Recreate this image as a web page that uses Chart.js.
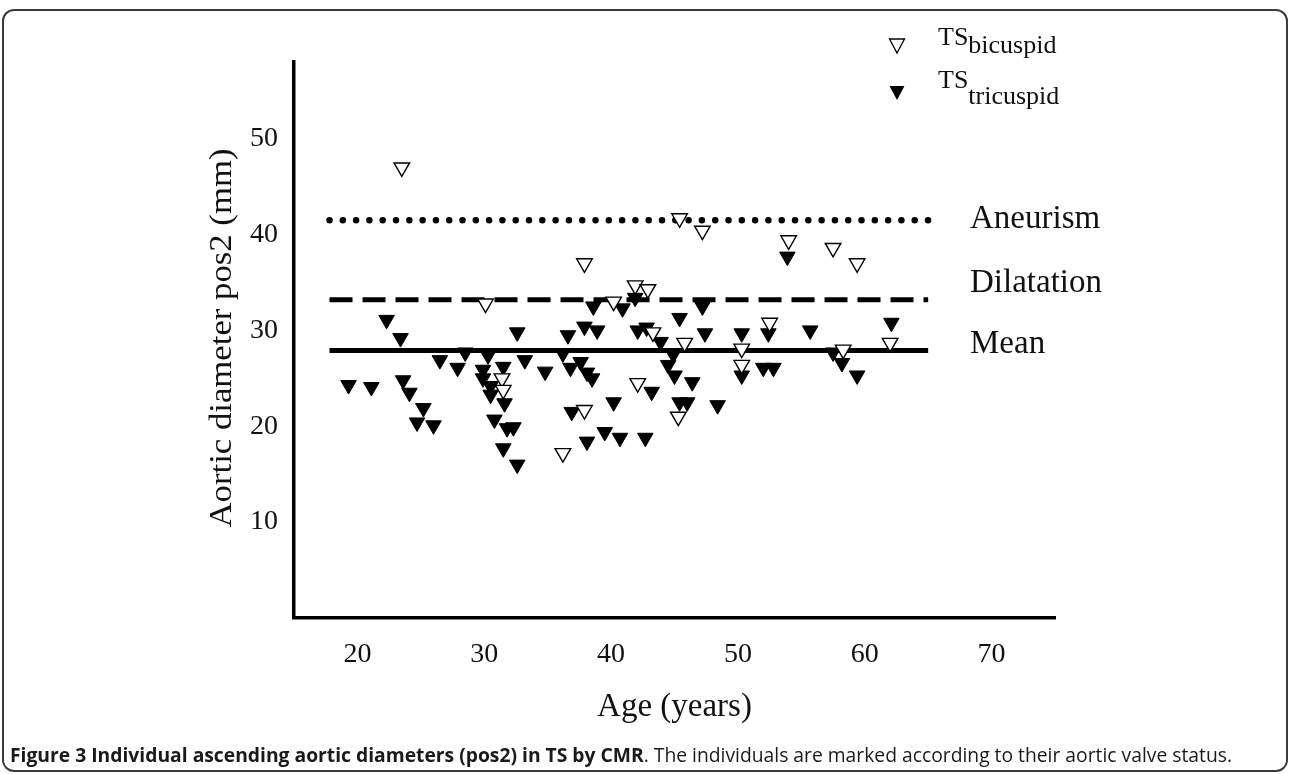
<!DOCTYPE html>
<html>
<head>
<meta charset="utf-8">
<script src="https://cdn.jsdelivr.net/npm/chart.js@4.4.1/dist/chart.umd.min.js"></script>
<style>
html,body{margin:0;padding:0;background:#fff;}
#wrap{position:relative;width:1290px;height:774px;overflow:hidden;background:#fff;}
#frame{position:absolute;left:2px;top:9px;width:1286px;height:763px;border:2px solid #3a3a3a;border-radius:12px;box-sizing:border-box;}
#c{position:absolute;left:0;top:0;width:1290px;height:774px;}
#cap{position:absolute;left:10px;top:741px;font-family:"Open Sans",sans-serif;font-size:19.3px;color:#1a1a1a;white-space:nowrap;}
#cap b{font-weight:700;}
</style>
</head>
<body>
<div id="wrap">
  <div id="frame"></div>
  <canvas id="c" width="1290" height="774"></canvas>
  <div id="cap"><b>Figure 3 Individual ascending aortic diameters (pos2) in TS by CMR</b>. The individuals are marked according to their aortic valve status.</div>
</div>
<script>
// ---- data ----
const bicuspidAge  = [45.4,47.2,37.9,41.9,42.9,30.1,40.2,43.3,45.8,54.0,57.5,59.4,52.5,50.3,62.0,31.4,31.5,42.1,37.9,36.2,45.3,50.3,58.3,23.5];
const bicuspidDiam = [41.7,40.4,37.0,34.7,34.3,32.8,33.0,29.8,28.7,39.4,38.6,37.0,30.8,28.1,28.7,25.0,23.8,24.5,21.7,17.2,21.0,26.4,28.0,47.0];

const tricuspidAge  = [22.3,23.4,32.6,36.6,37.9,38.9,38.6,40.9,41.9,42.1,42.8,43.9,45.4,47.2,53.9,47.4,50.3,52.4,55.7,62.1,
                       57.5,58.2,59.4,50.3,52.0,52.8,46.4,45.4,46.0,48.4,26.5,28.5,27.9,30.3,29.9,31.5,29.9,30.5,30.5,33.2,
                       34.8,36.2,36.8,37.6,38.1,38.5,44.5,45.0,43.2,19.3,21.1,23.6,24.1,25.2,24.7,26.0,31.6,30.8,31.8,32.3,
                       31.5,32.6,36.9,40.2,38.1,39.5,40.7,42.7,44.9];
const tricuspidDiam = [31.1,29.2,29.8,29.5,30.4,30.0,32.5,32.3,33.4,30.0,30.3,28.8,31.3,32.5,37.7,29.7,29.7,29.7,30.0,30.8,
                       27.7,26.6,25.3,25.3,26.1,26.1,24.6,22.5,22.5,22.2,26.9,27.7,26.1,27.4,25.9,26.2,25.0,24.2,23.3,26.9,
                       25.7,27.6,26.1,26.7,25.6,25.0,26.4,25.3,23.6,24.3,24.1,24.8,23.5,21.9,20.4,20.1,22.4,20.7,19.8,19.9,
                       17.7,16.0,21.5,22.5,18.4,19.4,18.8,18.8,27.5];

const refNames  = ["Aneurism","Dilatation","Mean"];
const refLevels = [41.5, 33.2, 27.9];
const refSpan   = [17.8, 65.0];

const xTicks = [20,30,40,50,60,70];
const yTicks = [10,20,30,40,50];
const xTitle = "Age (years)";
const yTitle = "Aortic diameter pos2 (mm)";
const legendMain = ["TS","TS"];
const legendSub  = ["bicuspid","tricuspid"];

// ---- build ----
const pts = (xs, ys) => xs.map((x,i)=>({x:x, y:ys[i]}));
const refLine = lvl => refSpan.map(x=>({x:x, y:lvl}));

const serif = '"Liberation Serif", "Times New Roman", serif';

const overlay = {
  id:'overlay',
  afterDraw(chart){
    const ctx = chart.ctx, ca = chart.chartArea, ys = chart.scales.y;
    ctx.save();
    ctx.fillStyle = '#111';
    // reference line labels
    ctx.font = '33px ' + serif;
    ctx.textAlign = 'left';
    ctx.textBaseline = 'middle';
    const offs = [-1, -16, -6];
    refNames.forEach((t,i)=>{
      ctx.fillText(t, 970, ys.getPixelForValue(refLevels[i]) + offs[i]);
    });
    // x title
    ctx.textAlign = 'center';
    ctx.font = '33px ' + serif;
    ctx.fillText(xTitle, (ca.left+ca.right)/2, 707);
    // y title
    ctx.save();
    ctx.translate(231, 338);
    ctx.rotate(-Math.PI/2);
    ctx.scale(1.12, 1);
    ctx.textBaseline = 'alphabetic';
    ctx.font = '31px ' + serif;
    ctx.fillText(yTitle, 0, 0);
    ctx.restore();
    // legend
    ctx.textAlign = 'left';
    ctx.textBaseline = 'alphabetic';
    ctx.font = '26px ' + serif;
    ctx.beginPath();
    ctx.moveTo(889.5, 39); ctx.lineTo(904.5, 39); ctx.lineTo(897, 53); ctx.closePath();
    ctx.fillStyle = '#fff'; ctx.fill();
    ctx.strokeStyle = '#000'; ctx.lineWidth = 1.3; ctx.stroke();
    ctx.fillStyle = '#111';
    ctx.fillText(legendMain[0], 938, 45);
    const w1 = ctx.measureText(legendMain[0]).width;
    ctx.fillText(legendSub[0], 938 + w1, 53);
    ctx.beginPath();
    ctx.moveTo(889.5, 86); ctx.lineTo(904.5, 86); ctx.lineTo(897, 100); ctx.closePath();
    ctx.fillStyle = '#000'; ctx.fill();
    ctx.fillStyle = '#111';
    ctx.fillText(legendMain[1], 938, 88);
    const w2 = ctx.measureText(legendMain[1]).width;
    ctx.fillText(legendSub[1], 938 + w2, 104);
    ctx.restore();
  }
};

const tickFont = {family: serif, size: 28};

new Chart(document.getElementById('c'), {
  type: 'scatter',
  data: {
    datasets: [
      {label:'TS bicuspid', data: pts(bicuspidAge, bicuspidDiam), pointStyle:'triangle', rotation:180,
       pointRadius:9, backgroundColor:'#fff', borderColor:'#000', borderWidth:1.4, order:0},
      {label:'TS tricuspid', data: pts(tricuspidAge, tricuspidDiam), pointStyle:'triangle', rotation:180,
       pointRadius:9, backgroundColor:'#000', borderColor:'#000', borderWidth:1, order:1},
      {label:refNames[0], data: refLine(refLevels[0]), showLine:true, pointRadius:0, borderColor:'#000',
       borderWidth:6.5, borderDash:[0,13.3], borderCapStyle:'round', order:2},
      {label:refNames[1], data: refLine(refLevels[1]), showLine:true, pointRadius:0, borderColor:'#000',
       borderWidth:5, borderDash:[23,10], borderCapStyle:'butt', order:2},
      {label:refNames[2], data: refLine(refLevels[2]), showLine:true, pointRadius:0, borderColor:'#000',
       borderWidth:5, order:2}
    ]
  },
  options: {
    responsive:false,
    animation:false,
    events:[],
    layout:{padding:{left:0, right:235, top:62, bottom:0}},
    plugins:{legend:{display:false}, tooltip:{enabled:false}},
    scales:{
      x:{type:'linear', min:15, max:75,
         afterBuildTicks: s => { s.ticks = xTicks.map(v=>({value:v})); },
         afterFit: s => { s.height = 156; },
         grid:{display:false, drawTicks:false},
         border:{display:true, color:'#000', width:3.5},
         ticks:{font:tickFont, color:'#111', padding:20, maxRotation:0, autoSkip:false}},
      y:{type:'linear', min:0, max:58,
         afterBuildTicks: s => { s.ticks = yTicks.map(v=>({value:v})); },
         afterFit: s => { s.width = 294; },
         grid:{display:false, drawTicks:false},
         border:{display:true, color:'#000', width:3.5},
         ticks:{font:tickFont, color:'#111', padding:16, autoSkip:false}}
    }
  },
  plugins:[overlay]
});
</script>
</body>
</html>
